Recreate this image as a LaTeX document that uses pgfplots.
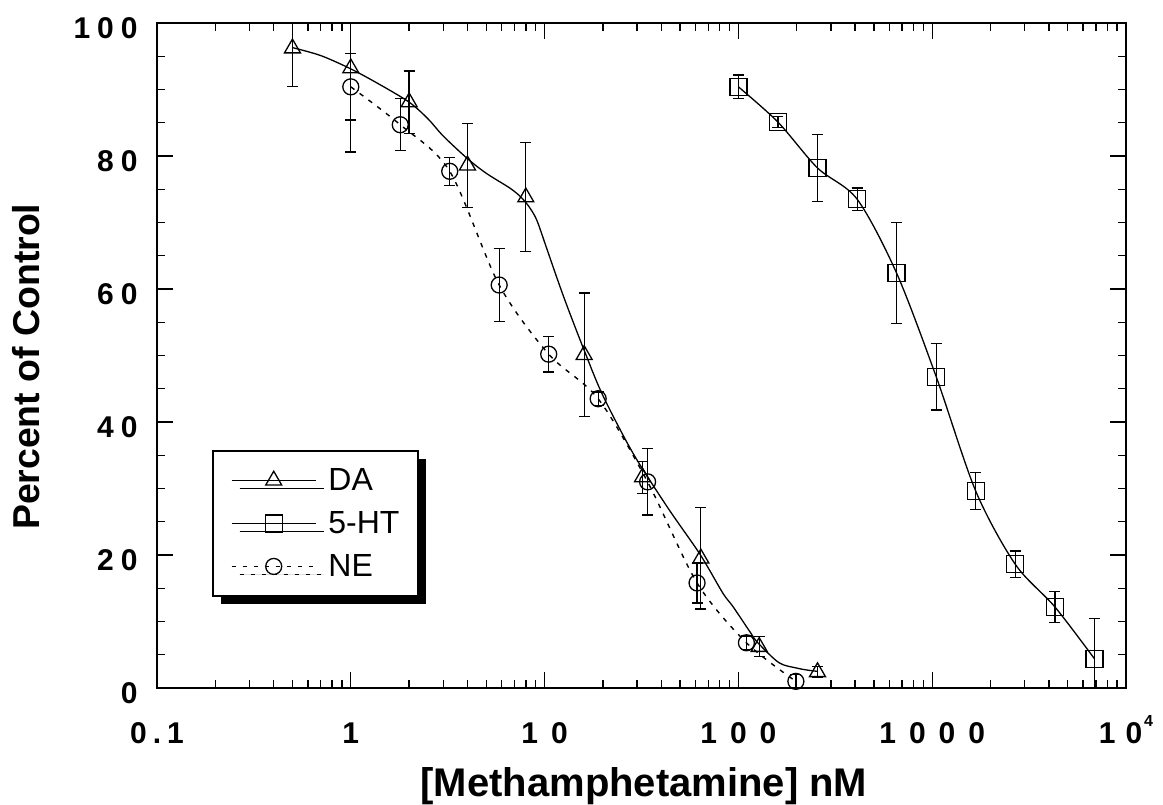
\documentclass[border=0pt]{standalone}
\usepackage{fontspec}
\setmainfont{Liberation Sans}
\usepackage{pgfplots}
\pgfplotsset{compat=1.18}
\usepackage{pgfplotstable}
\usetikzlibrary{shadows}

% x  y  error
\pgfplotstableread{
x y e
0.5 96.2 5.8
1 93.2 12.6
2 88.1 4.7
4 78.6 6.3
8 73.8 8.2
16 50.1 9.3
32 31.7 2.4
64 19.5 7.6
128 6.2 1.5
256 2.4 0.8
}\dadata

\pgfplotstableread{
x y e
100 90.4 1.8
160 85.1 0.8
256 78.2 5.0
410 73.5 1.7
655 62.4 7.6
1049 46.8 5.0
1678 29.6 2.8
2684 18.6 2.0
4295 12.2 2.3
6872 4.4 6.0
}\htdata

\pgfplotstableread{
x y e
1 90.4 5.0
1.8 84.7 3.9
3.24 77.7 2.1
5.83 60.6 5.5
10.5 50.2 2.7
18.9 43.5 1.0
34 31.0 5.0
61.2 15.8 3.0
110 6.8 1.0
198 1.0 1.0
}\nedata

\newcommand{\gx}{\kern6.5pt}
\newcommand{\gy}{\kern3.5pt}

\begin{document}
\begin{tikzpicture}
\begin{axis}[
  name=ax,
  scale only axis, width=484.5pt, height=332.5pt,
  xmode=log, xmin=0.1, xmax=10000, ymin=0, ymax=100,
  axis line style={line width=1pt},
  tick align=inside,
  major tick length=8pt, minor tick length=4pt,
  tick style={black, line width=0.7pt},
  xtick={0.1,1,10,100,1000,10000},
  xticklabels={0\kern3pt.\kern3pt1, 1, 1\gx0, 1\gx0\gx0, 1\gx0\gx0\gx0, 1\kern5pt0\kern1pt\raisebox{8.5pt}{\fontsize{8}{8}\selectfont 4}},
  minor xtick={0.2,0.3,0.4,0.5,0.6,0.7,0.8,0.9,2,3,4,5,6,7,8,9,20,30,40,50,60,70,80,90,200,300,400,500,600,700,800,900,2000,3000,4000,5000,6000,7000,8000,9000},
  ytick={0,20,40,60,80,100},
  yticklabels={0,2\gy0,4\gy0,6\gy0,8\gy0,1\gy0\gy0},
  minor ytick={5,10,15,25,30,35,45,50,55,65,70,75,85,90,95},
  xticklabel style={font=\fontsize{15}{15}\selectfont\bfseries, anchor=north, inner sep=0pt, text height=10.7pt, text depth=0pt, yshift=-17pt},
  yticklabel style={font=\fontsize{15}{15}\selectfont\bfseries, anchor=east, inner sep=0pt, text height=10.7pt, text depth=0pt, xshift=-9.5pt, yshift=-2.5pt},
  xlabel={[Methamphetamine] nM},
  ylabel={Percent of Control},
  every axis x label/.style={at={(axis description cs:0.5026,-0.163)}, anchor=base, font=\fontsize{20}{20}\selectfont\bfseries},
  every axis y label/.style={at={(axis description cs:-0.1352,0.483)}, rotate=90, anchor=center, font=\fontsize{18.7}{18.7}\selectfont\bfseries},
  legend style={at={(axis description cs:0.0568,0.358)}, anchor=north west, draw=black, line width=1pt, fill=white,
    drop shadow={shadow xshift=4pt, shadow yshift=-4pt, fill=black, opacity=1},
    inner xsep=9pt, inner ysep=9.5pt, row sep=11pt, font=\fontsize{16}{16}\selectfont,
    nodes={inner sep=0pt, text height=10.5pt, text depth=0pt},
    /tikz/every odd column/.style={column sep=6pt}},
  legend cell align=left,
  legend image code/.code={\draw[mark repeat=2, mark phase=2] plot coordinates {(0pt,0pt) (21pt,0pt) (42pt,0pt)};},
]
\addlegendimage{black, line width=0.65pt, mark=triangle, mark size=4.6pt, mark options={solid, line width=0.65pt}}
\addlegendentry{DA}
\addlegendimage{black, line width=0.65pt, mark=square, mark size=4.25pt, mark options={solid, line width=0.65pt}}
\addlegendentry{5-HT}
\addlegendimage{black, line width=0.7pt, dash pattern=on 2.3pt off 3.2pt, mark=o, mark size=4pt, mark options={solid, line width=0.65pt}}
\addlegendentry{NE}

% fitted curves
\addplot[forget plot, black, line width=0.65pt, smooth] coordinates {
  (0.5,96.3)(0.7,95.1)(1,93.1)(1.4,90.8)(2,88.1)(2.5,85.6)(3,83)(4,79.6)(5,77.4)(6.6,75.2)(7.5,73.9)(8.3,72.4)(9.1,70.4)(10.2,66.3)(11.6,61.6)(13,57.6)(15.8,51.2)(19.9,44.1)(28.6,35.3)(43,27.2)(63.4,20.1)(83,14.3)(94,12.2)(115,8.4)(126,6.8)(162,3.8)(200,3.0)(226,2.7)(256,2.5)
};
\addplot[forget plot, black, line width=0.65pt, smooth] table[x=x, y=y] {\htdata};
\addplot[forget plot, black, line width=0.7pt, dash pattern=on 2.3pt off 3.2pt, smooth] table[x=x, y=y] {\nedata};

% points with error bars
\addplot[forget plot, black, only marks, mark=triangle, mark size=4.6pt, mark options={line width=0.65pt},
  error bars/.cd, y dir=both, y explicit, error bar style={line width=0.65pt},
  error mark options={rotate=90, mark size=2.75pt, line width=0.65pt}]
  table[x=x, y=y, y error=e] {\dadata};
\addplot[forget plot, black, only marks, mark=square, mark size=4.25pt, mark options={line width=0.65pt},
  error bars/.cd, y dir=both, y explicit, error bar style={line width=0.65pt},
  error mark options={rotate=90, mark size=2.75pt, line width=0.65pt}]
  table[x=x, y=y, y error=e] {\htdata};
\addplot[forget plot, black, only marks, mark=o, mark size=4pt, mark options={line width=0.65pt},
  error bars/.cd, y dir=both, y explicit, error bar style={line width=0.65pt},
  error mark options={rotate=90, mark size=2.75pt, line width=0.65pt}]
  table[x=x, y=y, y error=e] {\nedata};
\end{axis}
\pgfresetboundingbox
\path ([shift={(-78.5pt,-58pt)}]ax.south west) rectangle ([shift={(18.5pt,11.5pt)}]ax.north east);
\end{tikzpicture}
\end{document}
